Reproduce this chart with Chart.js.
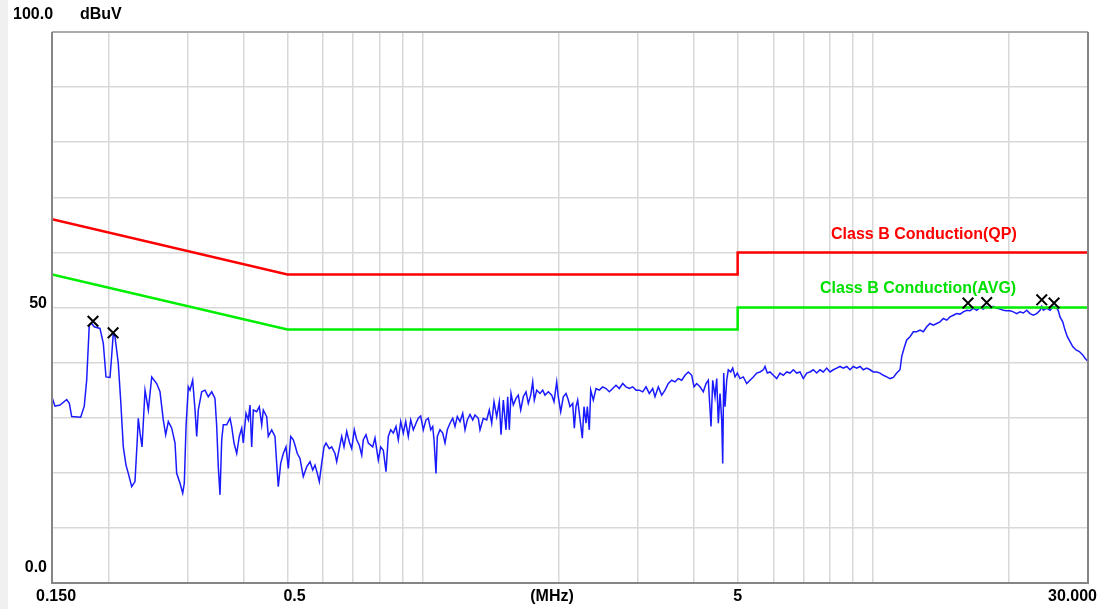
<!DOCTYPE html>
<html>
<head>
<meta charset="utf-8">
<script src="https://cdn.jsdelivr.net/npm/chart.js@4.4.1/dist/chart.umd.min.js"></script>
<style>
  html, body { margin: 0; padding: 0; background: #fff; }
</style>
</head>
<body>
<canvas id="emi" width="1101" height="609"></canvas>
<script>
// measured trace (MHz / dBuV)
var traceFreq = [
  0.1500, 0.1523, 0.1563, 0.1617, 0.1639, 0.1659, 0.1737, 0.1769, 0.1791, 0.1815,
  0.1838, 0.1862, 0.1917, 0.1950, 0.1977, 0.2018, 0.2031, 0.2052, 0.2070, 0.2105,
  0.2131, 0.2160, 0.2190, 0.2216, 0.2255, 0.2293, 0.2320, 0.2332, 0.2353, 0.2377,
  0.2414, 0.2435, 0.2455, 0.2498, 0.2562, 0.2606, 0.2650, 0.2683, 0.2719, 0.2767,
  0.2814, 0.2838, 0.2887, 0.2927, 0.2951, 0.2977, 0.3012, 0.3038, 0.3080, 0.3117,
  0.3144, 0.3170, 0.3225, 0.3280, 0.3336, 0.3395, 0.3452, 0.3483, 0.3511, 0.3542,
  0.3573, 0.3602, 0.3665, 0.3728, 0.3760, 0.3805, 0.3858, 0.3909, 0.3958, 0.3990,
  0.4046, 0.4094, 0.4129, 0.4165, 0.4200, 0.4273, 0.4330, 0.4384, 0.4420, 0.4497,
  0.4534, 0.4614, 0.4692, 0.4733, 0.4772, 0.4831, 0.4896, 0.4964, 0.5023, 0.5085,
  0.5153, 0.5198, 0.5259, 0.5332, 0.5423, 0.5518, 0.5612, 0.5690, 0.5758, 0.5826,
  0.5886, 0.5958, 0.6029, 0.6091, 0.6194, 0.6271, 0.6378, 0.6433, 0.6509, 0.6600,
  0.6678, 0.6771, 0.6862, 0.6946, 0.7039, 0.7126, 0.7222, 0.7311, 0.7371, 0.7473,
  0.7562, 0.7734, 0.7825, 0.7959, 0.8057, 0.8165, 0.8278, 0.8376, 0.8480, 0.8593,
  0.8713, 0.8816, 0.8925, 0.9044, 0.9156, 0.9278, 0.9393, 0.9519, 0.9651, 0.9765,
  0.9886, 1.0018, 1.0157, 1.0278, 1.0405, 1.0511, 1.0582, 1.0690, 1.0762, 1.0911,
  1.1063, 1.1194, 1.1326, 1.1484, 1.1644, 1.1781, 1.1921, 1.2087, 1.2255, 1.2400,
  1.2546, 1.2721, 1.2898, 1.3050, 1.3272, 1.3388, 1.3616, 1.3855, 1.4040, 1.4214,
  1.4382, 1.4582, 1.4777, 1.4906, 1.5083, 1.5292, 1.5426, 1.5553, 1.5689, 1.5874,
  1.6095, 1.6285, 1.6486, 1.6707, 1.6939, 1.7140, 1.7352, 1.7530, 1.7674, 1.7892,
  1.8197, 1.8450, 1.8668, 1.8986, 1.9319, 1.9548, 1.9819, 1.9982, 2.0229, 2.0500,
  2.0785, 2.1031, 2.1214, 2.1509, 2.1686, 2.1875, 2.2066, 2.2248, 2.2592, 2.2789,
  2.3023, 2.3177, 2.3415, 2.3584, 2.3899, 2.4232, 2.4644, 2.5076, 2.5503, 2.5937,
  2.6392, 2.6841, 2.7298, 2.7777, 2.8250, 2.8731, 2.9235, 2.9732, 3.0238, 3.0769,
  3.1292, 3.1825, 3.2383, 3.2766, 3.3324, 3.3908, 3.4486, 3.5073, 3.5688, 3.6295,
  3.6913, 3.7561, 3.8200, 3.8850, 3.9531, 4.0000, 4.0555, 4.1246, 4.1948, 4.2531,
  4.3034, 4.3633, 4.4014, 4.4534, 4.4923, 4.5292, 4.5688, 4.6087, 4.6323, 4.6560,
  4.6871, 4.7281, 4.7669, 4.8258, 4.8754, 4.9331, 4.9914, 5.0609, 5.1470, 5.2373,
  5.3264, 5.4171, 5.5121, 5.6059, 5.7013, 5.7511, 5.8192, 5.9000, 6.0005, 6.1057,
  6.2097, 6.3153, 6.4261, 6.5355, 6.6467, 6.7633, 6.8784, 6.9955, 7.1182, 7.2394,
  7.3626, 7.4917, 7.6193, 7.7489, 7.8848, 8.0191, 8.1555, 8.2986, 8.4398, 8.5835,
  8.7341, 8.8827, 9.0339, 9.1924, 9.3488, 9.5079, 9.6747, 9.8394, 10.007, 10.182,
  10.356, 10.532, 10.717, 10.899, 11.085, 11.279, 11.471, 11.571, 11.708, 11.871,
  12.073, 12.278, 12.494, 12.707, 12.923, 13.150, 13.373, 13.601, 13.840, 14.075,
  14.315, 14.566, 14.814, 15.066, 15.330, 15.591, 15.856, 16.135, 16.409, 16.689,
  16.981, 17.270, 17.564, 17.872, 18.177, 18.486, 18.810, 19.130, 19.456, 19.797,
  20.134, 20.477, 20.836, 21.191, 21.551, 21.929, 22.303, 22.682, 23.080, 23.473,
  23.678, 23.872, 24.291, 24.705, 25.125, 25.566, 25.776, 26.001, 26.363, 26.675,
  26.990, 27.366, 27.746, 28.218, 28.699, 29.202, 29.548, 30.000
];
var traceLevel = [
  33.7, 32.1, 32.3, 33.3, 32.6, 30.2, 30.1, 32.1, 36.8, 46.8,
  47.1, 46.5, 46.2, 43.5, 37.4, 37.3, 40.2, 45.3, 44.7, 39.9,
  33.2, 24.7, 21.4, 19.9, 17.5, 18.4, 26.0, 29.9, 27.2, 24.7,
  35.0, 33.2, 31.4, 37.4, 36.2, 34.7, 29.6, 26.9, 29.3, 28.1,
  25.4, 19.9, 18.1, 16.3, 18.1, 28.4, 35.6, 35.0, 36.8, 31.4,
  26.6, 31.4, 34.7, 35.0, 33.8, 34.7, 33.5, 28.4, 21.1, 16.0,
  26.0, 28.7, 28.7, 29.9, 28.4, 25.4, 23.5, 26.6, 28.1, 25.4,
  30.8, 29.6, 32.3, 24.7, 31.4, 31.1, 32.0, 28.7, 31.4, 30.2,
  26.6, 27.8, 26.6, 21.7, 17.5, 21.7, 23.5, 24.7, 20.8, 26.6,
  26.0, 25.0, 23.5, 22.6, 19.3, 21.1, 22.0, 20.5, 21.4, 19.9,
  18.4, 21.7, 24.7, 25.4, 24.4, 24.7, 23.5, 22.0, 24.1, 26.6,
  24.7, 27.5, 25.6, 24.4, 27.8, 26.0, 25.0, 23.2, 26.0, 26.9,
  25.4, 24.7, 26.3, 22.3, 24.7, 24.1, 20.2, 26.6, 27.8, 27.2,
  28.4, 26.0, 29.3, 27.2, 29.3, 26.6, 29.6, 27.8, 29.0, 29.9,
  30.3, 27.8, 29.6, 29.9, 27.8, 28.4, 26.0, 19.9, 26.6, 27.8,
  27.2, 25.4, 27.8, 29.0, 29.9, 28.4, 30.2, 29.3, 30.8, 27.8,
  29.6, 30.6, 29.6, 30.5, 29.9, 27.8, 29.9, 29.6, 31.4, 29.0,
  32.9, 30.2, 32.9, 26.9, 33.2, 27.8, 33.8, 27.8, 34.4, 32.3,
  33.5, 34.1, 31.4, 33.8, 34.7, 32.6, 34.1, 36.5, 33.2, 35.0,
  34.4, 35.0, 34.1, 34.7, 34.1, 32.9, 36.5, 33.8, 31.1, 33.8,
  34.4, 33.2, 32.0, 32.6, 28.1, 32.0, 33.2, 30.8, 26.3, 32.0,
  29.0, 32.0, 27.8, 35.0, 33.2, 35.3, 35.0, 35.6, 35.3, 34.7,
  35.3, 35.9, 35.3, 36.2, 35.6, 35.3, 35.6, 35.0, 35.0, 34.7,
  35.6, 34.4, 35.3, 33.8, 35.6, 34.1, 35.0, 36.2, 36.8, 36.5,
  37.1, 36.8, 37.7, 38.3, 37.7, 35.6, 36.2, 35.6, 34.7, 36.2,
  36.8, 28.4, 36.8, 33.8, 37.1, 29.0, 34.4, 29.6, 21.7, 38.1,
  32.0, 36.8, 38.7, 38.3, 39.0, 37.4, 38.1, 37.1, 37.4, 36.2,
  36.8, 37.4, 38.1, 38.3, 38.7, 39.3, 38.1, 38.3, 37.7, 37.1,
  38.1, 37.7, 38.3, 38.1, 38.7, 38.1, 38.3, 37.1, 38.1, 38.3,
  38.7, 38.1, 38.7, 38.3, 39.0, 38.3, 38.7, 39.0, 39.3, 39.0,
  39.3, 38.7, 39.3, 39.0, 39.3, 38.7, 39.0, 38.7, 38.3, 38.3,
  38.1, 37.7, 37.4, 37.1, 37.3, 38.1, 38.7, 41.1, 42.6, 44.1,
  44.7, 45.6, 45.6, 45.9, 45.6, 46.5, 47.1, 46.8, 47.1, 47.4,
  48.0, 47.7, 48.3, 48.6, 48.9, 48.8, 49.2, 49.5, 49.4, 49.9,
  49.5, 50.0, 49.7, 50.2, 49.9, 50.2, 49.9, 49.7, 49.5, 49.4,
  49.4, 49.2, 48.9, 49.2, 49.0, 49.5, 48.9, 48.6, 48.9, 49.5,
  50.2, 49.5, 49.9, 49.5, 50.2, 49.9, 49.4, 48.3, 47.4, 45.9,
  44.7, 43.8, 42.9, 42.3, 42.0, 41.4, 40.8, 40.2
];

// limit lines
var limitFreq = [0.15, 0.5, 5, 5, 30];
var limitQP = [66, 56, 56, 60, 60];
var limitAVG = [56, 46, 46, 50, 50];

// peak markers
var markerFreq = [0.1850, 0.2050, 16.24, 17.87, 23.68, 25.22];
var markerLevel = [47.5, 45.4, 50.8, 50.9, 51.4, 50.8];

// axes
var gridFreq = [0.2, 0.3, 0.4, 0.5, 0.6, 0.7, 0.8, 0.9, 1, 2, 3, 4, 5, 6, 7, 8, 9, 10, 20];
var xTickValues = [0.15, 0.5, 5, 30];
var xTickLabels = ['0.150', '0.5', '5', '30.000'];
var yTickValues = [0, 50, 100];
var yTickLabels = ['0.0', '50', '100.0'];

function pairs(xs, ys) {
  return xs.map(function (x, i) { return { x: x, y: ys[i] }; });
}

var FONT = 'bold 16px "Liberation Sans", Arial, sans-serif';

var frame = {
  id: 'frame',
  beforeDraw: function (chart) {
    var c = chart.ctx;
    c.save();
    c.fillStyle = '#ffffff';
    c.fillRect(0, 0, chart.width, chart.height);
    c.fillStyle = '#f0f0f0';
    c.fillRect(0, 0, 8, chart.height);
    c.restore();
  },
  afterDraw: function (chart) {
    var c = chart.ctx, a = chart.chartArea;
    var xs = chart.scales.x, ys = chart.scales.y;
    c.save();
    // plot border
    c.lineWidth = 2;
    c.strokeStyle = '#ababab';
    c.beginPath(); c.moveTo(a.left, a.top); c.lineTo(a.right, a.top); c.stroke();
    c.strokeStyle = '#858585';
    c.beginPath();
    c.moveTo(a.left, a.top); c.lineTo(a.left, a.bottom); c.lineTo(a.right, a.bottom); c.lineTo(a.right, a.top);
    c.stroke();

    c.font = FONT;
    c.fillStyle = '#000000';
    c.textBaseline = 'middle';

    // y tick labels (odd offsets as in the original software)
    var yOff = [{ x: 47, dy: -15, align: 'right' }, { x: 47, dy: -4, align: 'right' }, { x: 13, dy: -17, align: 'left' }];
    yTickValues.forEach(function (v, i) {
      c.textAlign = yOff[i].align;
      c.fillText(yTickLabels[i], yOff[i].x, ys.getPixelForValue(v) + yOff[i].dy);
    });
    c.textAlign = 'left';
    c.fillText('dBuV', 80, ys.getPixelForValue(100) - 17);

    // x tick labels
    var xOff = [{ dx: -16, align: 'left' }, { dx: -4, align: 'left' }, { dx: 0, align: 'center' }, { dx: 9, align: 'right' }];
    var yLab = a.bottom + 14;
    xTickValues.forEach(function (v, i) {
      c.textAlign = xOff[i].align;
      c.fillText(xTickLabels[i], xs.getPixelForValue(v) + xOff[i].dx, yLab);
    });
    c.textAlign = 'center';
    c.fillText('(MHz)', a.left + 500, yLab);

    // limit labels
    c.textAlign = 'left';
    c.fillStyle = '#ff0000';
    c.fillText('Class B Conduction(QP)', xs.getPixelForValue(8.06), ys.getPixelForValue(63.2));
    c.fillStyle = '#00e000';
    c.fillText('Class B Conduction(AVG)', xs.getPixelForValue(7.62), ys.getPixelForValue(53.4));
    c.restore();
  }
};

new Chart(document.getElementById('emi'), {
  type: 'line',
  data: {
    datasets: [
      {
        label: 'Peak',
        data: pairs(markerFreq, markerLevel),
        showLine: false,
        pointStyle: 'crossRot',
        pointRadius: 7.5,
        pointBorderWidth: 2,
        borderColor: '#000000',
        backgroundColor: '#000000',
        order: 0
      },
      {
        label: 'QP limit',
        data: pairs(limitFreq, limitQP),
        borderColor: '#ff0000',
        borderWidth: 2.5,
        pointRadius: 0,
        order: 1
      },
      {
        label: 'AVG limit',
        data: pairs(limitFreq, limitAVG),
        borderColor: '#00ee00',
        borderWidth: 2.5,
        pointRadius: 0,
        order: 1
      },
      {
        label: 'Trace',
        data: pairs(traceFreq, traceLevel),
        borderColor: '#1a1aff',
        borderWidth: 1.5,
        pointRadius: 0,
        order: 2
      }
    ]
  },
  options: {
    responsive: false,
    animation: false,
    devicePixelRatio: 1,
    parsing: true,
    layout: { padding: { left: 52, top: 32, right: 13, bottom: 26 } },
    plugins: { legend: { display: false }, tooltip: { enabled: false } },
    scales: {
      x: {
        type: 'logarithmic',
        min: 0.15,
        max: 30,
        afterBuildTicks: function (s) { s.ticks = gridFreq.map(function (v) { return { value: v }; }); },
        ticks: { display: false },
        grid: { color: '#d8d8d8', lineWidth: 1.5, drawTicks: false, tickLength: 0 },
        border: { display: false }
      },
      y: {
        type: 'linear',
        min: 0,
        max: 100,
        ticks: { display: false, stepSize: 10 },
        grid: { color: '#d8d8d8', lineWidth: 1.5, drawTicks: false, tickLength: 0 },
        border: { display: false }
      }
    }
  },
  plugins: [frame]
});
</script>
</body>
</html>
